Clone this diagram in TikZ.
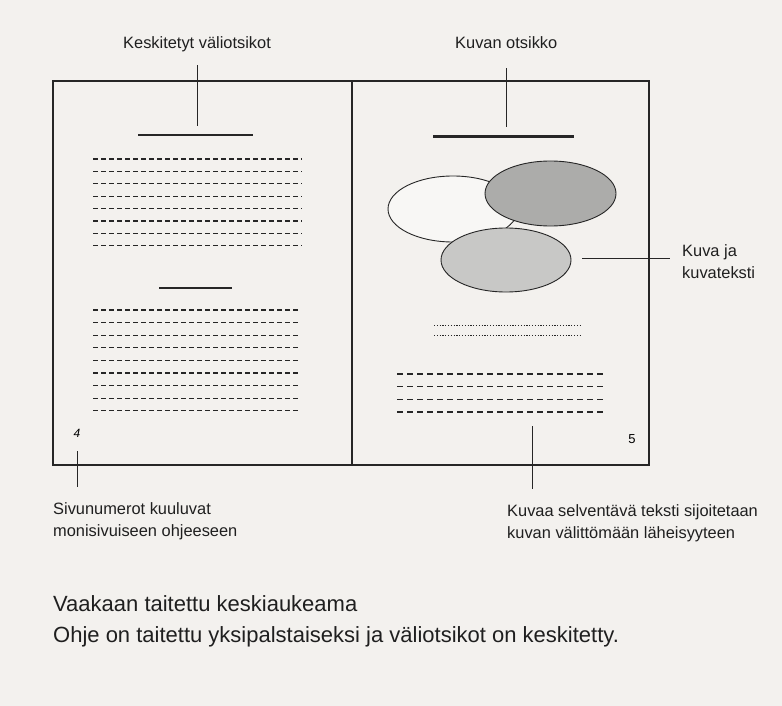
\documentclass[tikz,border=0pt]{standalone}
\usepackage{fontspec}
\setmainfont{Liberation Sans}
\usetikzlibrary{positioning, shapes.geometric, backgrounds}
\definecolor{Sivupohja}{RGB}{243,241,238}
\definecolor{Viiva}{RGB}{38,38,38}
\definecolor{Varjo1}{RGB}{172,172,170}
\definecolor{Varjo2}{RGB}{200,200,198}

\begin{document}
\begin{tikzpicture}[x=1pt, y=-1pt,
  lbl/.style={inner sep=0pt, anchor=base west, align=left,
              font=\fontsize{16.4}{22}\selectfont, text=black!88},
  capt/.style={inner sep=0pt, anchor=base west,
               font=\fontsize{22}{28}\selectfont, text=black!88},
  pnum/.style={inner sep=0pt, font=\fontsize{12}{14}\selectfont},
  spread/.style={draw=Viiva, line width=1.3pt},
  ldr/.style={draw=Viiva, line width=0.9pt},
  otsbar/.style={rectangle, fill=Viiva, inner sep=0pt, minimum height=2.4pt},
  rivi/.style={draw=Viiva, line width=1.1pt, dash pattern=on 5pt off 3pt},
  kuvarivi/.style={draw=Viiva, line width=1.1pt, dash pattern=on 6pt off 4pt},
  pisterivi/.style={draw=Viiva, line width=0.9pt, dash pattern=on 1.2pt off 1.6pt},
  kuvio/.style={ellipse, draw=Viiva, line width=0.9pt, inner sep=0pt}
]
\useasboundingbox (0,0) rectangle (782,706);
\fill[Sivupohja] (0,0) rectangle (782,706);

%% ─── Aukeama ────────────────────────────────────────────────
\draw[spread] (53,81) rectangle (649,465);
\draw[spread] (352,81) -- (352,465);

%% ─── Vasen sivu: väliotsikot ja tekstirivit ─────────────────
\node[otsbar, minimum width=115pt]   (barL1) at (195.5,135) {};
\foreach \y in {159,171.4,183.8,196.2,208.6,221,233.4,245.8}
  \draw[rivi] (93,\y) -- (302,\y);
\node[otsbar, minimum width=73pt]    (barL2) at (195.5,288) {};
\foreach \y in {310,322.6,335.2,347.8,360.4,373,385.6,398.2,410.8}
  \draw[rivi] (93,\y) -- (300,\y);
\node[pnum, font=\fontsize{12}{14}\selectfont\itshape] (pnL) at (77,433) {4};

%% ─── Oikea sivu: kuva, kuvateksti ja rivit ──────────────────
\node[otsbar, minimum width=141pt, minimum height=3pt] (barR) at (503.5,137) {};
\node[kuvio, fill=Sivupohja!60!white, minimum width=130pt, minimum height=66pt] (kuvaA) at (453,209) {};
\node[kuvio, fill=Varjo1, minimum width=131pt, minimum height=65pt] (kuvaB) at (550.5,193.5) {};
\node[kuvio, fill=Varjo2, minimum width=130pt, minimum height=64pt] (kuvaC) at (506,260) {};
\draw[pisterivi] (434,325) -- (580,325);
\draw[pisterivi] (434,335) -- (580,335);
\foreach \y in {374,386.7,399.3,412}
  \draw[kuvarivi] (397,\y) -- (606,\y);
\node[pnum, font=\fontsize{13}{15}\selectfont] (pnR) at (632,439) {5};

%% ─── Selitteet ──────────────────────────────────────────────
\node[lbl] (kesk)  at (123,49)  {Keskitetyt väliotsikot};
\node[lbl] (otsk)  at (455,49)  {Kuvan otsikko};
\node[lbl] (kuva)  at (682,278) {Kuva ja\\kuvateksti};
\node[lbl] (sivu)  at (53,536)  {Sivunumerot kuuluvat\\monisivuiseen ohjeeseen};
\node[lbl] (kuvaa) at (507,538) {Kuvaa selventävä teksti sijoitetaan\\kuvan välittömään läheisyyteen};

\coordinate (kuvaR) at (582,258);
\coordinate (rivitR) at (532,426);
\draw[ldr, shorten <=12.6pt, shorten >=7.8pt] (kesk.south) -- (kesk.south |- barL1.north);
\draw[ldr, shorten <=19pt, shorten >=8.7pt]   (otsk.south) -- (otsk.south |- barR.north);
\draw[ldr, shorten >=12pt] (kuvaR) -- (kuvaR -| kuva.west);
\draw[ldr, shorten <=13.7pt, shorten >=15.4pt] (pnL.south) -- (pnL.south |- sivu.north);
\draw[ldr, shorten >=15pt] (rivitR) -- (rivitR |- kuvaa.north);

%% ─── Kuvateksti ─────────────────────────────────────────────
\node[capt] (vaaka) at (53,611) {Vaakaan taitettu keskiaukeama};
\node[capt] (ohje)  at (53,642) {Ohje on taitettu yksipalstaiseksi ja väliotsikot on keskitetty.};

\end{tikzpicture}
\end{document}
